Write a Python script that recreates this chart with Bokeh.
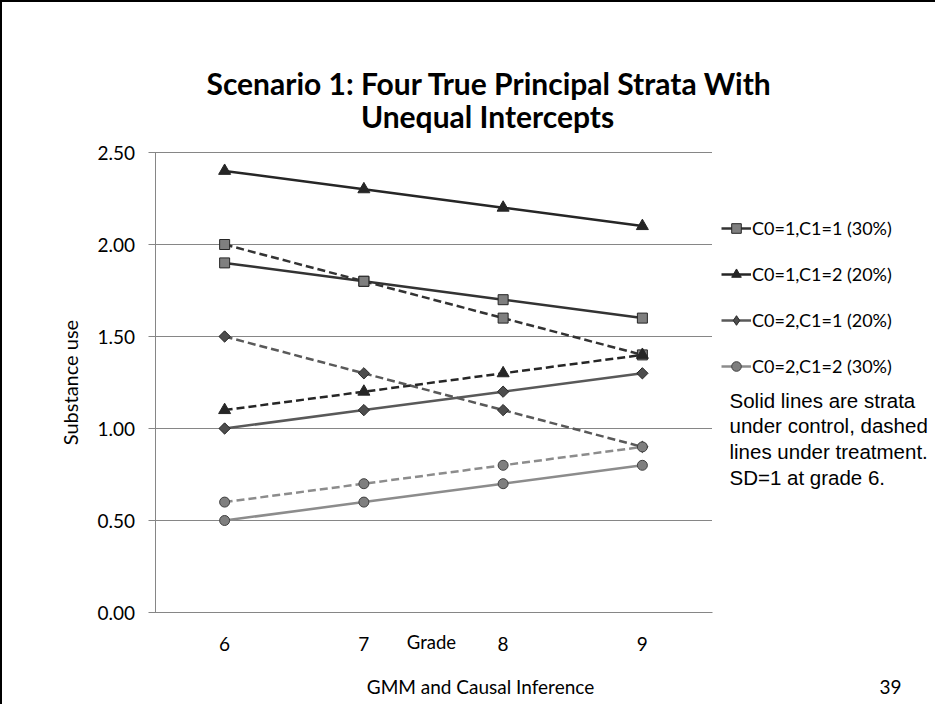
from bokeh.plotting import figure
from bokeh.models import (Label, Legend, LegendItem, FixedTicker, LinearAxis,
                          NumeralTickFormatter, Range1d)
from bokeh.embed import file_html
from bokeh.resources import INLINE
import numpy as np

# ---- data ----
grades = ["6", "7", "8", "9"]
series_names = ["C0=1,C1=1 (30%)", "C0=1,C1=2 (20%)", "C0=2,C1=1 (20%)", "C0=2,C1=2 (30%)"]
control_11 = [1.9, 1.8, 1.7, 1.6]
treat_11 = [2.0, 1.8, 1.6, 1.4]
control_12 = [2.4, 2.3, 2.2, 2.1]
treat_12 = [1.1, 1.2, 1.3, 1.4]
control_21 = [1.0, 1.1, 1.2, 1.3]
treat_21 = [1.5, 1.3, 1.1, 0.9]
control_22 = [0.5, 0.6, 0.7, 0.8]
treat_22 = [0.6, 0.7, 0.8, 0.9]
y_ticks = [0.0, 0.5, 1.0, 1.5, 2.0, 2.5]

# ---- page geometry (pixels in the 951x722 window) ----
ORG_X, ORG_Y = 10, 10          # canvas origin on page (8px margin + 2px border)
W, H = 935, 704
PL, PR, PT, PB = 162.5, 719.5, 160.0, 620.0   # chart plot-area box

gnum = [float(g) for g in grades]
g_lo, g_hi = gnum[0] - 0.5, gnum[-1] + 0.5
y_lo, y_hi = y_ticks[0], y_ticks[-1]
xs = (PR - PL) / (g_hi - g_lo)
ys = (PB - PT) / (y_hi - y_lo)
x_start = g_lo + (ORG_X - PL) / xs
x_end = g_lo + (ORG_X + W - PL) / xs
y_end = y_lo + (PB - ORG_Y) / ys
y_start = y_lo + (PB - (ORG_Y + H)) / ys

p = figure(width=W, height=H, x_range=Range1d(x_start, x_end),
           y_range=Range1d(y_start, y_end), output_backend="svg",
           toolbar_location=None, x_axis_type=None, y_axis_type=None,
           min_border=0)
p.styles = {"border-top": "2px solid #000", "border-left": "2px solid #000"}
p.outline_line_color = None
p.background_fill_color = "white"
p.border_fill_color = "white"
p.grid.visible = False

GRID = "#868686"
FONT = "Lato"

# gridlines across the plot area only
p.segment(x0=[g_lo] * len(y_ticks), x1=[g_hi] * len(y_ticks), y0=y_ticks, y1=y_ticks,
          line_color=GRID, line_width=1)

yax = LinearAxis(fixed_location=g_lo, bounds=(y_lo, y_hi),
                 ticker=FixedTicker(ticks=y_ticks),
                 formatter=NumeralTickFormatter(format="0.00"))
yax.axis_line_color = GRID
yax.major_tick_line_color = GRID
yax.major_tick_out = 7
yax.major_tick_in = 0
yax.minor_tick_line_color = None
yax.major_label_standoff = 13
yax.major_label_text_font = FONT
yax.major_label_text_font_size = "19px"
yax.major_label_text_color = "#000"
yax.axis_label = "Substance use"
yax.axis_label_text_font = FONT
yax.axis_label_text_font_style = "normal"
yax.axis_label_text_font_size = "20px"
yax.axis_label_text_color = "#000"
yax.axis_label_standoff = 13
p.add_layout(yax, "left")

xax = LinearAxis(fixed_location=y_lo, bounds=(g_lo, g_hi),
                 ticker=FixedTicker(ticks=gnum),
                 major_label_overrides={gv: g for gv, g in zip(gnum, grades)})
xax.axis_line_color = GRID
xax.major_tick_line_color = None
xax.major_tick_out = 0
xax.major_tick_in = 0
xax.minor_tick_line_color = None
xax.major_label_standoff = 24
xax.major_label_text_font = FONT
xax.major_label_text_font_size = "19px"
xax.major_label_text_color = "#000"
p.add_layout(xax, "below")

DASH = "8 4"
LW = 2.5
styles = [
    # control, treat, line color, marker, size, angle, fill, outline, legend marker
    (control_11, treat_11, "#333333", "square", 10, 0.0, "#7f7f7f", "#262626", None),
    (control_12, treat_12, "#262626", "triangle", 12, 0.0, "#262626", "#262626", None),
    (control_21, treat_21, "#595959", "square", 8, np.pi / 4, "#4d4d4d", "#262626", "diamond"),
    (control_22, treat_22, "#8c8c8c", "circle", 10, 0.0, "#7f7f7f", "#404040", None),
]

items = []
for name, (ctl, trt, lc, mk, sz, ang, fc, oc, lmk) in zip(series_names, styles):
    l1 = p.line(gnum, ctl, line_color=lc, line_width=LW)
    l2 = p.line(gnum, trt, line_color=lc, line_width=LW, line_dash=DASH)
    leg_marker = None
    if lmk is not None:
        # marker used for the legend swatch; fully covered by the plot markers
        leg_marker = p.scatter(gnum, ctl, marker=lmk, size=sz, fill_color=fc,
                               line_color=oc, line_width=1)
    s1 = p.scatter(gnum, ctl, marker=mk, size=sz, angle=ang, fill_color=fc,
                   line_color=oc, line_width=1)
    s2 = p.scatter(gnum, trt, marker=mk, size=sz, angle=ang, fill_color=fc,
                   line_color=oc, line_width=1)
    items.append(LegendItem(label=name, renderers=[l1, leg_marker or s1]))

def sx(px):
    return px - ORG_X

def sy(py):
    return ORG_Y + H - py

legend = Legend(items=items, location=(sx(729), sy(386)), orientation="vertical",
                glyph_width=30, glyph_height=24, label_height=24, spacing=22,
                padding=0, margin=0, border_line_color=None, background_fill_alpha=0,
                label_text_font=FONT, label_text_font_size="18px", label_standoff=1,
                label_text_color="#000")
p.add_layout(legend)

def lab(text, px, py, size, font=FONT, style="normal", align="center"):
    p.add_layout(Label(x=sx(px), y=sy(py), x_units="screen", y_units="screen",
                       text=text, text_font=font, text_font_size=size,
                       text_font_style=style, text_align=align,
                       text_baseline="middle", text_color="#000"))

lab("Scenario 1: Four True Principal Strata With", 497, 90, "30px", style="bold")
lab("Unequal Intercepts", 495, 123, "30px", style="bold")
lab("Grade", 439, 649, "18.5px")
lab("GMM and Causal Inference", 488, 694, "19px")
lab("39", 898, 694, "19px")
note = ["Solid lines are strata", "under control, dashed",
        "lines under treatment.", "SD=1 at grade 6."]
for i, t in enumerate(note):
    lab(t, 737, 407.5 + i * 25.7, "20.5px", font="Liberation Sans", align="left")

open("out.html", "w").write(file_html(p, INLINE))
